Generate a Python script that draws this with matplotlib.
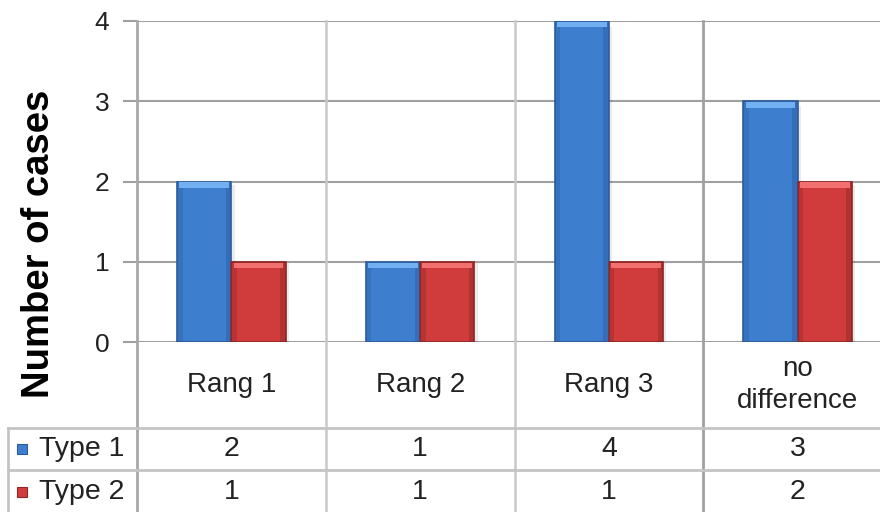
import matplotlib
matplotlib.use("Agg")
import matplotlib.pyplot as plt
from matplotlib.transforms import blended_transform_factory
from matplotlib.lines import Line2D
from matplotlib.patches import Rectangle

plt.rcParams['font.family'] = ['Liberation Sans', 'DejaVu Sans']

categories = ["Rang 1", "Rang 2", "Rang 3", "no\ndifference"]
series_names = ["Type 1", "Type 2"]
type1 = [2, 1, 4, 3]
type2 = [1, 1, 1, 2]
yticks = [0, 1, 2, 3, 4]

W, H = 880, 512
fig = plt.figure(figsize=(W / 100, H / 100), dpi=100)

def fx(px):
    return px / W

def fy(py):
    return 1 - py / H

# plot area: left edge at x=137, right edge slightly beyond the figure
left, right, top, zero = 137, 892, 21, 342
ax = fig.add_axes([fx(left), fy(zero), fx(right - left), (zero - top) / H])
ax.set_xlim(0, len(categories))
ax.set_ylim(0, 4)
for s in ax.spines.values():
    s.set_visible(False)
ax.set_xticks([])
ax.set_yticks(yticks)
ax.tick_params(axis='y', length=10, width=1.5, color='#a0a0a0', pad=10,
               labelsize=19, labelcolor='#222222')
ax.yaxis.grid(True, color='#a0a0a0', linewidth=1.5)
ax.set_axisbelow(True)

blue, blue_edge, blue_top = '#3e7ecf', '#2b5c9c', '#72b0f2'
red, red_edge, red_top = '#d03c3c', '#8e2424', '#f27070'
bw = 0.287
xs = [i + 0.5 for i in range(len(categories))]

def bevel_bars(xpos, vals, face, edge, hi):
    bars = ax.bar(xpos, vals, width=bw, color=face, edgecolor=edge,
                  linewidth=1.2, zorder=3)
    for b in bars:
        x0, w, h = b.get_x(), b.get_width(), b.get_height()
        # darker side shading
        ax.add_patch(Rectangle((x0, 0), w * 0.1, h, color=edge, alpha=0.35,
                               lw=0, zorder=4))
        ax.add_patch(Rectangle((x0 + w * 0.9, 0), w * 0.1, h, color=edge,
                               alpha=0.45, lw=0, zorder=4))
        # light top rim
        ax.add_patch(Rectangle((x0 + w * 0.04, h - 0.08), w * 0.92, 0.07,
                               color=hi, lw=0, zorder=5))
        # soft shadow at the right side
        ax.add_patch(Rectangle((x0 + w, 0), w * 0.06, h * 0.98, color='#000000',
                               alpha=0.08, lw=0, zorder=2))
    return bars

bevel_bars([x - bw / 2 for x in xs], type1, blue, blue_edge, blue_top)
bevel_bars([x + bw / 2 for x in xs], type2, red, red_edge, red_top)

# table structure below the plot
bt = blended_transform_factory(ax.transData, fig.transFigure)
sep_colors = ['#a8a8a8', '#c8c8c8', '#c8c8c8', '#a0a0a0']
for i, c in enumerate(sep_colors):
    fig.add_artist(Line2D([i, i], [fy(top), fy(H)], transform=bt, color=c,
                          lw=2 if i in (0, 3) else 1.8, clip_on=False))
for py in (428, 470):
    fig.add_artist(Line2D([fx(8), 1], [fy(py), fy(py)], transform=fig.transFigure,
                          color='#c4c4c4', lw=2))
fig.add_artist(Line2D([fx(8), fx(8)], [fy(428), fy(H)], transform=fig.transFigure,
                      color='#c4c4c4', lw=2))

# category labels
for x, c in zip(xs, categories):
    ax.text(x, fy(385), c, transform=bt, ha='center', va='center',
            fontsize=20, color='#222222', linespacing=1.3)

# legend keys and values
rows_y = [449, 492]
keys = [(blue, blue_edge), (red, red_edge)]
for (name, vals, (fc, ec), py) in zip(series_names, [type1, type2], keys, rows_y):
    fig.add_artist(Rectangle((fx(17), fy(py + 5)), fx(10), 10 / H,
                             transform=fig.transFigure, facecolor=fc,
                             edgecolor=ec, lw=0.8))
    fig.text(fx(39), fy(py), name, ha='left', va='center', fontsize=20.5,
             color='#222222')
    for x, v in zip(xs, vals):
        ax.text(x, fy(py), str(v), transform=bt, ha='center', va='center',
                fontsize=20.5, color='#222222')

fig.text(fx(39), fy(244), "Number of cases", rotation=90, ha='center',
         va='center', fontsize=27.5, fontweight='bold', color='#000000')

fig.savefig("out.png", dpi=100)
